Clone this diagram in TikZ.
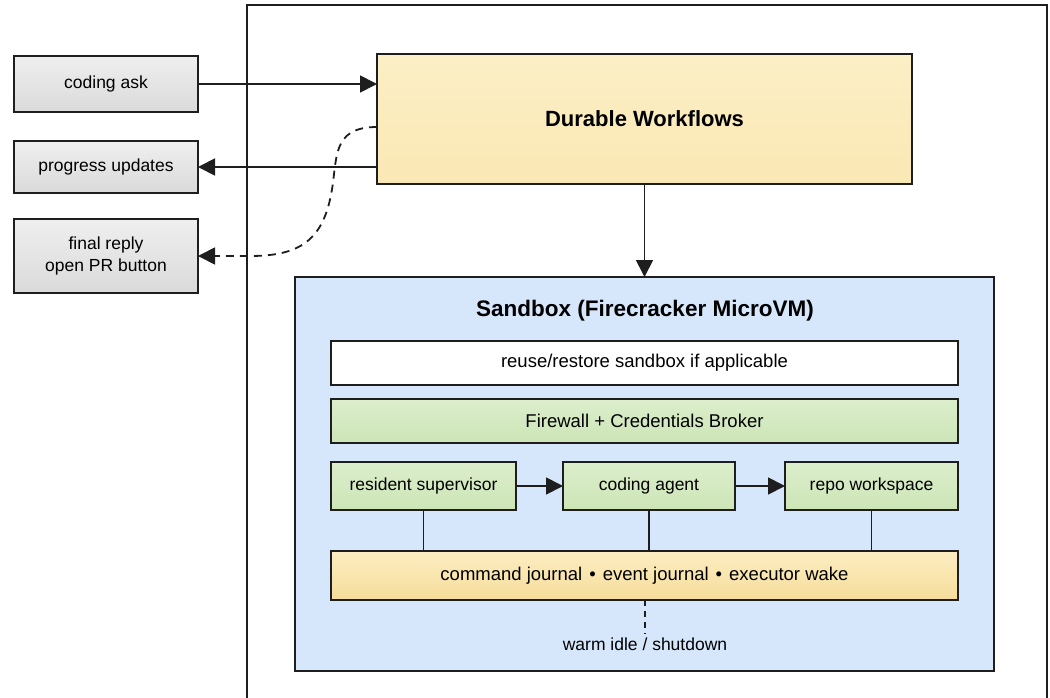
\documentclass[tikz,border=0pt]{standalone}
\usepackage{fontspec}
\setmainfont{Liberation Sans}
\usetikzlibrary{arrows.meta,calc}

\definecolor{edge}{HTML}{1E1E1E}
\definecolor{grayTop}{HTML}{EFEFEF}
\definecolor{grayBot}{HTML}{DADADA}
\definecolor{wfTop}{HTML}{FCEFC6}
\definecolor{wfBot}{HTML}{FAE8B4}
\definecolor{sbFill}{HTML}{D6E7FB}
\definecolor{grTop}{HTML}{DCEECC}
\definecolor{grBot}{HTML}{CCE5B6}
\definecolor{jrTop}{HTML}{FCEEC2}
\definecolor{jrBot}{HTML}{F6DC9A}

\tikzset{
  x=1pt, y=-1pt,
  every node/.style={inner sep=0pt, outer sep=0pt, text=black},
  framed/.style={draw=edge, line width=1.8pt, rectangle, align=center},
  clientbox/.style={framed, top color=grayTop, bottom color=grayBot,
    minimum width=184pt, font=\fontsize{17.5}{21}\selectfont},
  flowbox/.style={framed, top color=wfTop, bottom color=wfBot,
    font=\fontsize{22}{26}\selectfont\bfseries},
  sandbox/.style={draw=edge, line width=1.8pt, fill=sbFill},
  barbox/.style={framed, minimum width=627pt, font=\fontsize{18.5}{22}\selectfont},
  greenbar/.style={barbox, top color=grTop, bottom color=grBot},
  whitebar/.style={barbox, fill=white},
  journalbar/.style={barbox, top color=jrTop, bottom color=jrBot},
  unitbox/.style={framed, top color=grTop, bottom color=grBot,
    minimum height=48pt, font=\fontsize{17.5}{21}\selectfont},
  tip/.style={-{Triangle[length=17pt,width=17pt]}},
  flow/.style={draw=edge, line width=1.8pt, tip},
  link/.style={draw=edge, line width=1.8pt},
  hint/.style={draw=edge, line width=1.8pt, dash pattern=on 8pt off 6pt},
}

\begin{document}
\begin{tikzpicture}
\useasboundingbox (0,0) rectangle (1050,697);

% outer boundary of the service, running past the lower edge
\draw[edge, line width=1.9pt] (247,720) -- (247,5) -- (1047,5) -- (1047,720);

% client side
\node[clientbox, minimum height=56pt] (ask)   at (106,84)  {coding ask};
\node[clientbox, minimum height=52pt] (prog)  at (106,167) {progress updates};
\node[clientbox, minimum height=74pt] (final) at (106,256) {final reply\\[1pt]open PR button};

% orchestration
\node[flowbox, minimum width=535pt, minimum height=130pt] (wf) at (644.5,119) {Durable Workflows};

% microVM
\node[sandbox, minimum width=699pt, minimum height=394pt] (sb) at (644.5,474) {};
\node[font=\fontsize{22.5}{26}\selectfont\bfseries] (sbtitle) at (645,311) {Sandbox (Firecracker MicroVM)};

\node[whitebar, minimum height=44pt] (reuse) at (644.5,363) {reuse/restore sandbox if applicable};
\node[greenbar, minimum height=44pt] (fw)    at (644.5,421) {Firewall + Credentials Broker};

\node[unitbox, minimum width=185pt] (sup)   at (423.5,486) {resident supervisor};
\node[unitbox, minimum width=172pt] (agent) at (649,486)   {coding agent};
\node[unitbox, minimum width=173pt] (repo)  at (871.5,486) {repo workspace};

\node[journalbar, minimum height=49pt] (jr) at (644.5,575.5)
  {command journal\hspace{7pt}•\hspace{7pt}event journal\hspace{7pt}•\hspace{7pt}executor wake};

\node[font=\fontsize{17.5}{21}\selectfont, anchor=north] (idle) at (645,638) {warm idle / shutdown};

% connectors
\draw[flow] (ask.east) -- (ask.east -| wf.west);
\draw[flow] (prog.east -| wf.west) -- (prog.east);
\coordinate (wfout) at ($(wf.west)+(0,8)$);
\draw[hint, tip]
  (wfout) .. controls (330,127) and (338,160) .. (331,195)
          .. controls (322,240) and (300,256) .. (250,256) -- (final.east);
\draw[flow] (wf.south) -- (sb.north);

\draw[flow] (sup.east) -- (agent.west);
\draw[flow] (agent.east) -- (repo.west);
\draw[link] (sup.south)   -- (sup.south |- jr.north);
\draw[link] (agent.south) -- (agent.south |- jr.north);
\draw[link] (repo.south)  -- (repo.south |- jr.north);
\draw[hint, dash pattern=on 6pt off 5pt] (jr.south -| idle.north) -- ($(idle.north)+(0,-4)$);
\end{tikzpicture}
\end{document}
